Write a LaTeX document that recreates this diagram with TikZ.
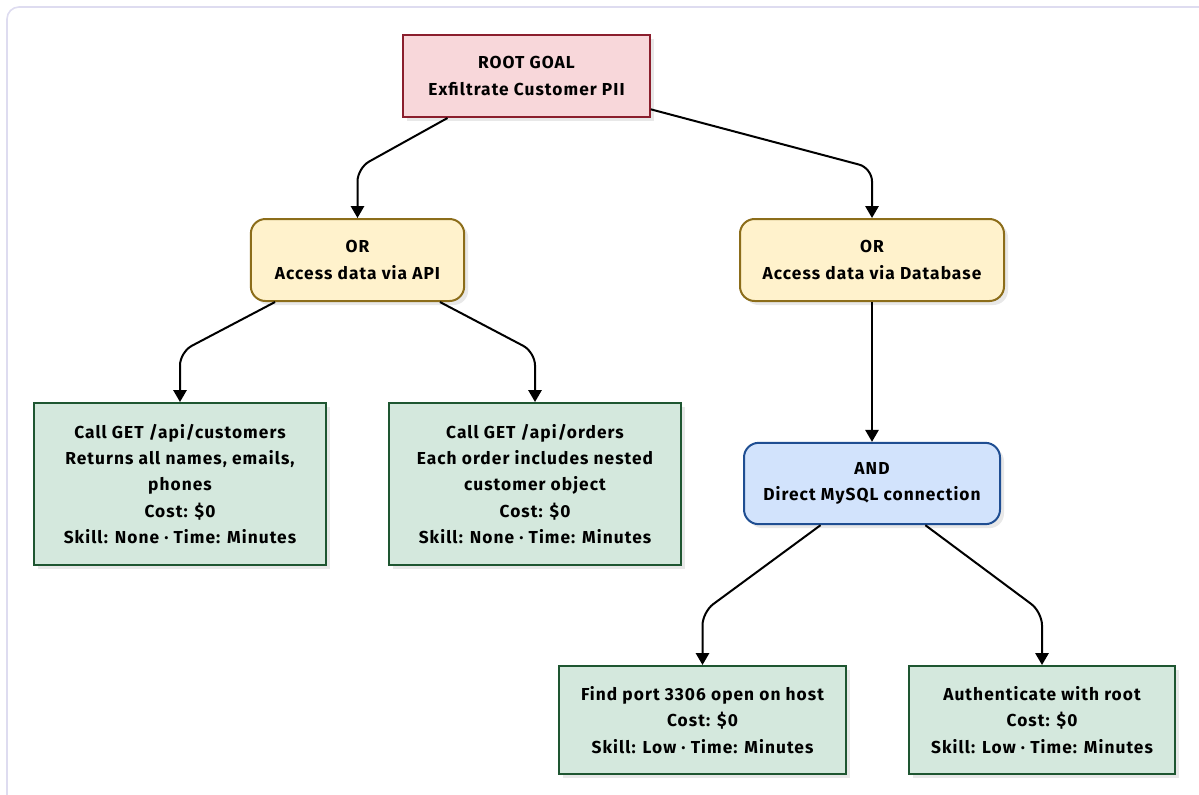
\documentclass[tikz,border=0pt]{standalone}
\usepackage{fontspec}
\setmainfont{Fira Sans}
\newfontfamily\diagfont{Fira Sans}[LetterSpace=6]
\usetikzlibrary{arrows.meta,shadows}
\definecolor{goalfill}{HTML}{F8D7DA}
\definecolor{goalline}{HTML}{8B1E2D}
\definecolor{orfill}{HTML}{FFF2CC}
\definecolor{orline}{HTML}{8C6D1A}
\definecolor{andfill}{HTML}{D2E3FC}
\definecolor{andline}{HTML}{1F4E92}
\definecolor{leaffill}{HTML}{D4E8DD}
\definecolor{leafline}{HTML}{1E5631}
\definecolor{framecol}{HTML}{DEDCF0}
\begin{document}
\begin{tikzpicture}[x=0.75pt,y=-0.75pt,
  box/.style={draw, line width=1.5pt, align=center, inner sep=0pt,
    font=\diagfont\bfseries\fontsize{13}{19.8}\selectfont,
    drop shadow={shadow xshift=3pt,shadow yshift=-3pt,fill=black!9,opacity=1}},
  goalbox/.style={box, fill=goalfill, draw=goalline},
  orbox/.style={box, fill=orfill, draw=orline, rounded corners=11pt},
  andbox/.style={box, fill=andfill, draw=andline, rounded corners=11pt},
  leafbox/.style={box, fill=leaffill, draw=leafline},
  edge/.style={draw, line width=1.5pt, rounded corners=10pt, -{Triangle[length=9pt,width=10pt]}}]
\useasboundingbox (0,0) rectangle (1199,794);
\clip (0,0) rectangle (1199,794);
% outer frame
\draw[framecol, line width=1.2pt, rounded corners=9pt] (7,7) rectangle (1220,815);
% goal
\node[goalbox, minimum width=185pt, minimum height=61.5pt] (goal) at (526.5,76) {ROOT GOAL\\Exfiltrate Customer PII};
% or nodes
\node[orbox, minimum width=160pt, minimum height=61.5pt] (api) at (357.5,260) {OR\\Access data via API};
\node[orbox, minimum width=198pt, minimum height=61.5pt] (db) at (872,260) {OR\\Access data via Database};
% and node
\node[andbox, minimum width=192pt, minimum height=61pt] (sql) at (872,483.5) {AND\\Direct MySQL connection};
% leaves
\node[leafbox, minimum width=219pt, minimum height=121.5pt] (cust) at (180,484) {Call GET /api/customers\\Returns all names, emails,\\phones\\Cost: \$0\\Skill: None · Time: Minutes};
\node[leafbox, minimum width=219pt, minimum height=121.5pt] (ord) at (535,484) {Call GET /api/orders\\Each order includes nested\\customer object\\Cost: \$0\\Skill: None · Time: Minutes};
\node[leafbox, minimum width=215pt, minimum height=81pt] (port) at (702.5,720) {Find port 3306 open on host\\Cost: \$0\\Skill: Low · Time: Minutes};
\node[leafbox, minimum width=200pt, minimum height=81pt] (auth) at (1042,720) {Authenticate with root\\Cost: \$0\\Skill: Low · Time: Minutes};
% connectors
\draw[edge] (goal.208) -- (api.north |- 0,168) -- (api.north);
\draw[edge] (goal.-15) -- (db.north |- 0,168) -- (db.north);
\draw[edge] (api.207) -- (cust.north |- 0,352) -- (cust.north);
\draw[edge] (api.-27) -- (ord.north |- 0,352) -- (ord.north);
\draw[edge] (db.south) -- (sql.north);
\draw[edge] (sql.219) -- (port.north |- 0,612) -- (port.north);
\draw[edge] (sql.-38) -- (auth.north |- 0,612) -- (auth.north);
\end{tikzpicture}
\end{document}
